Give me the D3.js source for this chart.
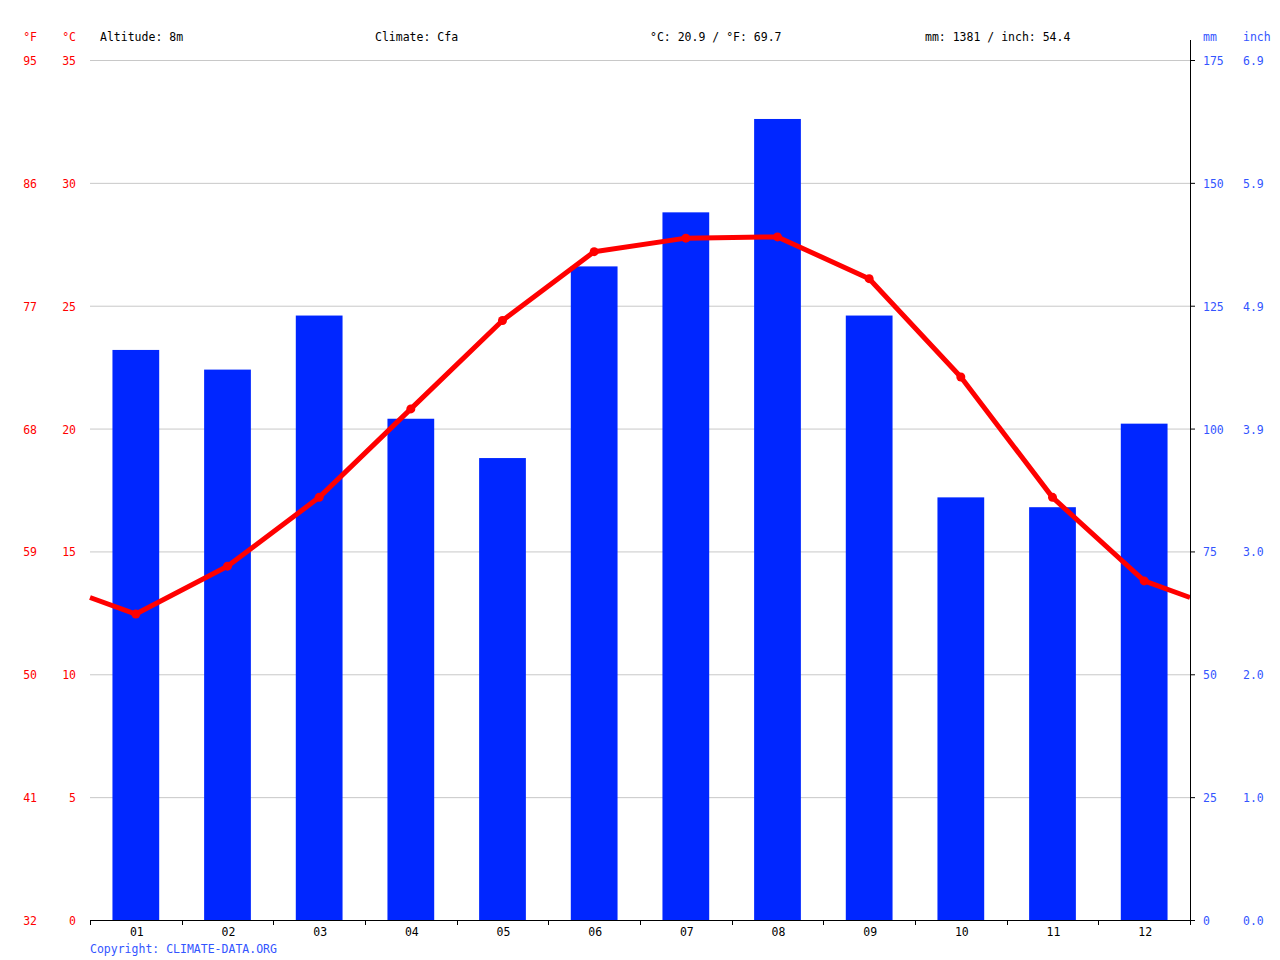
<html>
<head>
<meta charset="utf-8">
<script src="https://d3js.org/d3.v7.min.js"></script>
<style>
  body { margin: 0; background: #fff; }
  svg text { font-family: "DejaVu Sans Mono", monospace; font-size: 11.5px; }
</style>
</head>
<body>
<script>
// data
var months = ["01","02","03","04","05","06","07","08","09","10","11","12"];
var precipMm = [116, 112, 123, 102, 94, 133, 144, 163, 123, 86, 84, 101];
var tempC = [12.45, 14.4, 17.2, 20.8, 24.4, 27.2, 27.75, 27.8, 26.1, 22.1, 17.2, 13.8];
var cTicks = [0, 5, 10, 15, 20, 25, 30, 35];
var fLabels = ["32", "41", "50", "59", "68", "77", "86", "95"];
var mmTicks = [0, 25, 50, 75, 100, 125, 150, 175];
var inchLabels = ["0.0", "1.0", "2.0", "3.0", "3.9", "4.9", "5.9", "6.9"];
var headers = ["Altitude: 8m", "Climate: Cfa", "°C: 20.9 / °F: 69.7", "mm: 1381 / inch: 54.4"];

var W = 1280, H = 960;
var plotL = 90, plotR = 1190, plotT = 60, plotB = 920;

var svg = d3.select("body").append("svg").attr("width", W).attr("height", H);

var x = d3.scaleBand().domain(months).range([plotL, plotR]).paddingInner(0.49).paddingOuter(0.245);
var xs = d3.scaleLinear().domain([0, 12]).range([plotL, plotR]);
var yT = d3.scaleLinear().domain([0, 35]).range([plotB, plotT]);
var yP = d3.scaleLinear().domain([0, 175]).range([plotB, plotT]);

// grid
svg.append("g").selectAll("line").data(cTicks.slice(1)).enter().append("line")
  .attr("x1", plotL).attr("x2", plotR)
  .attr("y1", function(d) { return yT(d) + 0.5; }).attr("y2", function(d) { return yT(d) + 0.5; })
  .attr("stroke", "#c8c8c8").attr("stroke-width", 1);

// bars
svg.append("g").selectAll("rect").data(precipMm).enter().append("rect")
  .attr("x", function(d, i) { return x(months[i]); })
  .attr("width", x.bandwidth())
  .attr("y", function(d) { return yP(d); })
  .attr("height", function(d) { return plotB - yP(d); })
  .attr("fill", "#0026ff");

// temperature line, extended to both edges by wrapping Dec -> Jan
var edge = (tempC[0] + tempC[11]) / 2;
var pts = [[0, edge]];
tempC.forEach(function(t, i) { pts.push([i + 0.5, t]); });
pts.push([12, edge]);
var line = d3.line().x(function(d) { return xs(d[0]); }).y(function(d) { return yT(d[1]); });
svg.append("path").datum(pts).attr("d", line)
  .attr("fill", "none").attr("stroke", "#ff0000").attr("stroke-width", 5).attr("stroke-linejoin", "round");
svg.append("g").selectAll("circle").data(tempC).enter().append("circle")
  .attr("cx", function(d, i) { return xs(i + 0.5); })
  .attr("cy", function(d) { return yT(d); })
  .attr("r", 4.5).attr("fill", "#ff0000");

// x axis
svg.append("line").attr("x1", plotL).attr("x2", plotR).attr("y1", plotB + 0.5).attr("y2", plotB + 0.5)
  .attr("stroke", "#000");
svg.append("g").selectAll("line").data(d3.range(13)).enter().append("line")
  .attr("x1", function(d) { return Math.round(xs(d)) + 0.5; })
  .attr("x2", function(d) { return Math.round(xs(d)) + 0.5; })
  .attr("y1", plotB).attr("y2", plotB + 5).attr("stroke", "#000");
svg.append("g").selectAll("text").data(months).enter().append("text")
  .attr("x", function(d) { return x(d) + x.bandwidth() / 2 + 1; })
  .attr("y", 936).attr("text-anchor", "middle").attr("fill", "#000").text(function(d) { return d; });

// right axis
svg.append("line").attr("x1", plotR + 0.5).attr("x2", plotR + 0.5).attr("y1", 40).attr("y2", plotB + 5)
  .attr("stroke", "#000");
svg.append("g").selectAll("line").data(mmTicks).enter().append("line")
  .attr("x1", plotR).attr("x2", plotR + 5)
  .attr("y1", function(d) { return yP(d) + 0.5; }).attr("y2", function(d) { return yP(d) + 0.5; })
  .attr("stroke", "#000");
svg.append("g").selectAll("text").data(mmTicks).enter().append("text")
  .attr("x", 1203).attr("y", function(d) { return yP(d) + 5; })
  .attr("fill", "#3355ff").text(function(d) { return d; });
svg.append("g").selectAll("text").data(inchLabels).enter().append("text")
  .attr("x", 1243).attr("y", function(d, i) { return yP(mmTicks[i]) + 5; })
  .attr("fill", "#3355ff").text(function(d) { return d; });
svg.append("text").attr("x", 1203).attr("y", 41).attr("fill", "#3355ff").text("mm");
svg.append("text").attr("x", 1243).attr("y", 41).attr("fill", "#3355ff").text("inch");

// left labels
svg.append("g").selectAll("text").data(cTicks).enter().append("text")
  .attr("x", 76).attr("y", function(d) { return yT(d) + 5; }).attr("text-anchor", "end")
  .attr("fill", "#ff0000").text(function(d) { return d; });
svg.append("g").selectAll("text").data(fLabels).enter().append("text")
  .attr("x", 37).attr("y", function(d, i) { return yT(cTicks[i]) + 5; }).attr("text-anchor", "end")
  .attr("fill", "#ff0000").text(function(d) { return d; });
svg.append("text").attr("x", 37).attr("y", 41).attr("text-anchor", "end").attr("fill", "#ff0000").text("°F");
svg.append("text").attr("x", 76).attr("y", 41).attr("text-anchor", "end").attr("fill", "#ff0000").text("°C");

// header
svg.append("g").selectAll("text").data(headers).enter().append("text")
  .attr("x", function(d, i) { return 100 + i * 275; }).attr("y", 41)
  .attr("fill", "#000").text(function(d) { return d; });

svg.append("text").attr("x", 90).attr("y", 953).attr("fill", "#3355ff").text("Copyright: CLIMATE-DATA.ORG");
</script>
</body>
</html>
